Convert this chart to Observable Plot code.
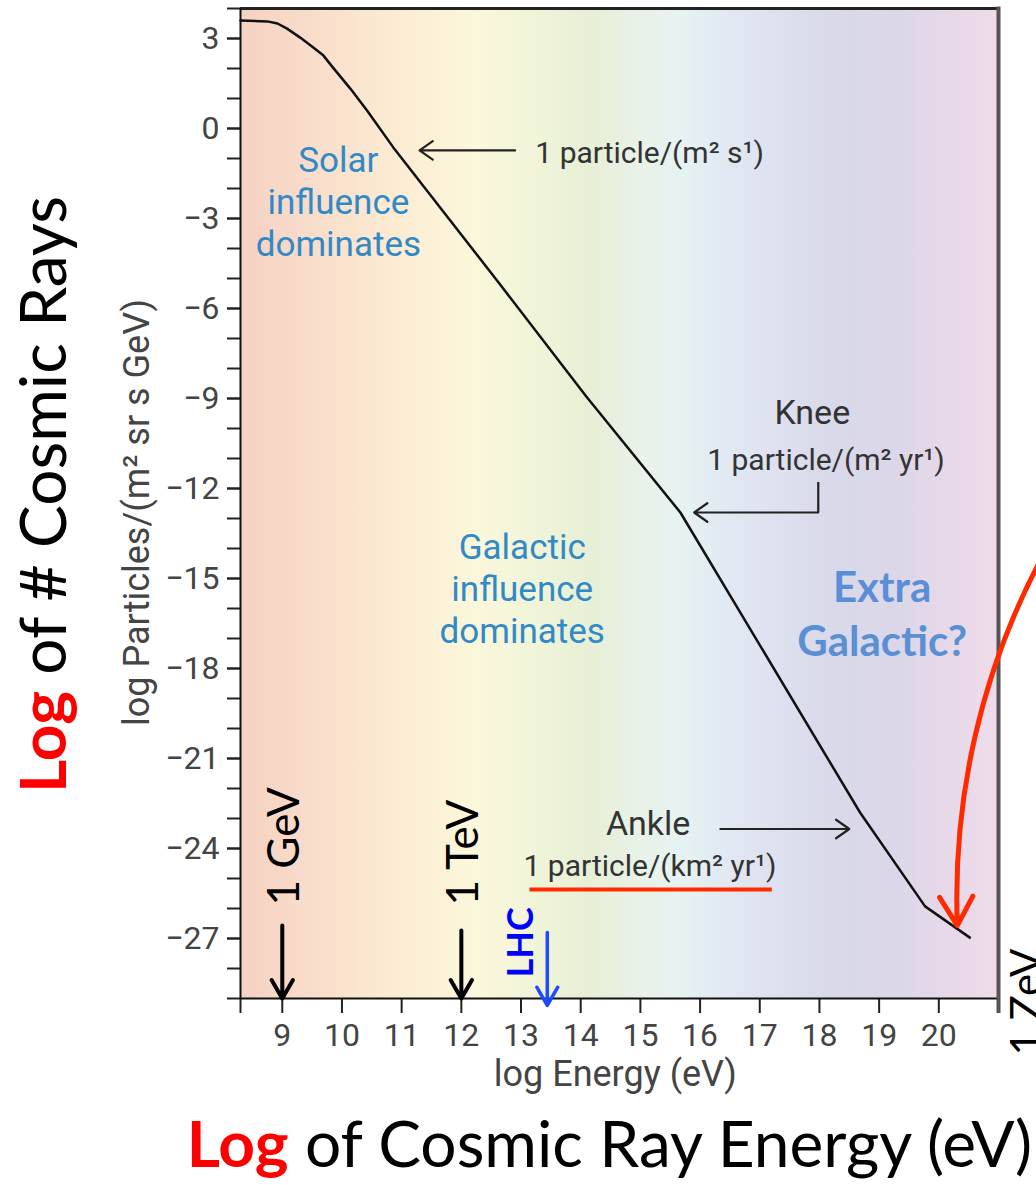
<!DOCTYPE html>
<html>
<head>
<meta charset="utf-8">
<script src="https://cdn.jsdelivr.net/npm/d3@7"></script>
<script src="https://cdn.jsdelivr.net/npm/@observablehq/plot@0.6"></script>
<style>
  body { margin: 0; background: #fff; }
  #chart svg { display: block; }
</style>
</head>
<body>
<div id="chart"></div>
<script>
// ---------------- data ----------------
const logEnergy = [8.30, 8.75, 8.92, 9.08, 9.30, 9.52, 9.69, 9.85, 10.14, 10.42, 10.86, 12.65, 14.10, 15.67, 18.68, 19.77, 20.52];
const logFlux   = [3.60, 3.57, 3.50, 3.33, 3.03, 2.70, 2.43, 2.03, 1.33, 0.60, -0.63, -5.20, -8.95, -12.80, -22.80, -25.93, -26.97];

const xTicks = [9, 10, 11, 12, 13, 14, 15, 16, 17, 18, 19, 20];
const yMajorTicks = [-27, -24, -21, -18, -15, -12, -9, -6, -3, 0, 3];
const yMinorTicks = [-29, -28, -27, -26, -25, -24, -23, -22, -21, -20, -19, -18, -17, -16, -15, -14, -13, -12, -11, -10, -9, -8, -7, -6, -5, -4, -3, -2, -1, 0, 1, 2, 3, 4];

// region labels
const regionLabels = [
  {text: "Solar\ninfluence\ndominates", x: 9.94, y: -2.4},
  {text: "Galactic\ninfluence\ndominates", x: 13.02, y: -15.3}
];
const extraLabel = [{text: "Extra\nGalactic?", x: 19.05, y: -16.1}];

// callout texts
const calloutBig = [
  {text: "Knee", x: 17.88, y: -9.5},
  {text: "Ankle", x: 15.13, y: -23.2}
];
const calloutSmall = [
  {text: "1 particle/(m² yr¹)", x: 18.11, y: -11.05},
  {text: "1 particle/(km² yr¹)", x: 15.16, y: -24.6}
];
const calloutStart = [{text: "1 particle/(m² s¹)", x: 13.24, y: -0.83}];

// callout arrows
const calloutArrows = [
  {x1: 12.9, y1: -0.73, x2: 11.3, y2: -0.73},
  {x1: 17.98, y1: -12.8, x2: 15.9, y2: -12.8},
  {x1: 16.34, y1: -23.35, x2: 18.5, y2: -23.35}
];
const kneeStem = [{x: 17.98, y1: -11.8, y2: -12.8}];

// energy markers
const energyMarkers = [
  {label: "1 GeV", x: 9, textY: -25.9, arrowTop: -26.57},
  {label: "1 TeV", x: 12, textY: -25.9, arrowTop: -26.73}
];
const lhcLabel = [{label: "LHC", x: 13.0, y: -28.3}];
const lhcArrow = [{x: 13.44, y1: -26.8, y2: -29.23}];
const zevLabel = [{label: "1 ZeV", x: 21.48, y: -30.9}];

// red annotations
const redUnderline = [{x1: 13.15, x2: 17.21, y: -25.37}];
const redArrow = [{x1: 21.7, y1: -14.4, x2: 20.31, y2: -26.57}];

// titles
const yTitle = "Log of # Cosmic Rays";
const xTitle = "Log of Cosmic Ray Energy (eV)";
const yAxisLabel = "log Particles/(m² sr s GeV)";
const xAxisLabel = "log Energy (eV)";

// background gradient (style)
const bgStops = [
  {offset: 0.00, color: "#f5d2c2"},
  {offset: 0.08, color: "#f8dbca"},
  {offset: 0.16, color: "#fbe6cf"},
  {offset: 0.25, color: "#fcf1d6"},
  {offset: 0.31, color: "#fbf7db"},
  {offset: 0.40, color: "#eff4d9"},
  {offset: 0.46, color: "#e7efd6"},
  {offset: 0.53, color: "#e8f2e8"},
  {offset: 0.58, color: "#e7f3f2"},
  {offset: 0.62, color: "#e2ecf3"},
  {offset: 0.69, color: "#dfe3f0"},
  {offset: 0.78, color: "#d8d9ea"},
  {offset: 0.87, color: "#dcd7e8"},
  {offset: 0.92, color: "#e5d8e8"},
  {offset: 1.00, color: "#efdcea"}
];

const curve = logEnergy.map((e, i) => ({e, f: logFlux[i]}));

const FONT = "Roboto, 'Noto Sans', sans-serif";
const TITLE_FONT = "Lato, 'Open Sans', sans-serif";

const plot = Plot.plot({
  width: 1036,
  height: 1185,
  marginLeft: 240,
  marginRight: 38,
  marginTop: 8,
  marginBottom: 187,
  x: {domain: [8.3, 21], label: null},
  y: {domain: [-29, 4], label: null},
  style: {fontFamily: FONT, background: "white", overflow: "visible"},
  marks: [
    Plot.frame({fill: "url(#bgGrad)", stroke: "none"}),

    // axes
    Plot.axisY(yMinorTicks, {tickSize: 13, stroke: "#222", strokeWidth: 2, tickFormat: () => "", label: null}),
    Plot.axisY(yMajorTicks, {tickSize: 13, tickPadding: 8, stroke: "#222", strokeWidth: 2, fill: "#444", fontSize: 32, label: null}),
    Plot.axisX([8.3], {tickSize: 15, stroke: "#222", strokeWidth: 2, tickFormat: () => "", label: null}),
    Plot.axisX(xTicks, {tickSize: 15, tickPadding: 10, stroke: "#222", strokeWidth: 2, fill: "#444", fontSize: 32, label: null}),

    // frame borders
    Plot.ruleY([4], {stroke: "#222", strokeWidth: 3}),
    Plot.ruleY([-29], {stroke: "#111", strokeWidth: 2}),
    Plot.ruleX([8.3], {stroke: "#111", strokeWidth: 2}),
    Plot.ruleX([21], {y1: -29.5, y2: 4.05, stroke: "#555", strokeWidth: 4}),

    // spectrum
    Plot.line(curve, {x: "e", y: "f", stroke: "#111", strokeWidth: 2.5, strokeLinejoin: "round"}),

    // region labels
    Plot.text(regionLabels, {x: "x", y: "y", text: "text", fill: "#3189c6", fontSize: 35, lineHeight: 1.2, fontFamily: FONT}),
    Plot.text(extraLabel, {x: "x", y: "y", text: "text", fill: "#5a8fd6", fontSize: 42, fontWeight: "bold", lineHeight: 1.3, fontFamily: TITLE_FONT}),

    // callouts
    Plot.text(calloutBig, {x: "x", y: "y", text: "text", fill: "#333", fontSize: 34, fontFamily: FONT}),
    Plot.text(calloutSmall, {x: "x", y: "y", text: "text", fill: "#333", fontSize: 30, fontFamily: FONT}),
    Plot.text(calloutStart, {x: "x", y: "y", text: "text", fill: "#333", fontSize: 30, textAnchor: "start", fontFamily: FONT}),
    Plot.arrow(calloutArrows, {x1: "x1", y1: "y1", x2: "x2", y2: "y2", stroke: "#222", strokeWidth: 2.2, headLength: 11, headAngle: 70}),
    Plot.ruleX(kneeStem, {x: "x", y1: "y1", y2: "y2", stroke: "#222", strokeWidth: 2.2}),

    // energy markers
    Plot.text(energyMarkers, {x: "x", y: "textY", text: "label", rotate: -90, textAnchor: "start", fill: "#000", fontSize: 44, dx: 3, fontFamily: TITLE_FONT}),
    Plot.arrow(energyMarkers, {x1: "x", x2: "x", y1: "arrowTop", y2: () => -29, stroke: "#000", strokeWidth: 4, headLength: 8}),
    Plot.text(lhcLabel, {x: "x", y: "y", text: "label", rotate: -90, textAnchor: "start", fill: "#0000ff", fontSize: 36, fontWeight: "bold", fontFamily: TITLE_FONT}),
    Plot.arrow(lhcArrow, {x1: "x", x2: "x", y1: "y1", y2: "y2", stroke: "#1f4bff", strokeWidth: 3.5, headLength: 9}),
    Plot.text(zevLabel, {x: "x", y: "y", text: "label", rotate: -90, textAnchor: "start", fill: "#000", fontSize: 42, fontFamily: TITLE_FONT}),

    // red annotations
    Plot.ruleY(redUnderline, {x1: "x1", x2: "x2", y: "y", stroke: "#ff2a00", strokeWidth: 4}),
    Plot.arrow(redArrow, {x1: "x1", y1: "y1", x2: "x2", y2: "y2", bend: -15, stroke: "#ff2a00", strokeWidth: 5, headLength: 10}),

    // axis labels
    Plot.text([yAxisLabel], {frameAnchor: "left", y: () => -12.8, text: d => d, rotate: -90, textAnchor: "middle", lineAnchor: "middle", dx: -103, fill: "#444", fontSize: 36, fontFamily: FONT}),
    Plot.text([xAxisLabel], {frameAnchor: "bottom", x: () => 14.58, text: d => d, textAnchor: "middle", lineAnchor: "middle", dy: 76, fill: "#444", fontSize: 36, fontFamily: FONT}),

    // big titles
    Plot.text([yTitle], {frameAnchor: "left", y: () => -12.2, text: d => d, rotate: -90, textAnchor: "middle", lineAnchor: "middle", dx: -195, fill: "#000", fontSize: 64, fontFamily: TITLE_FONT}),
    Plot.text([xTitle], {frameAnchor: "bottom", x: () => 14.48, text: d => d, textAnchor: "middle", lineAnchor: "middle", dy: 148, fill: "#000", fontSize: 64, fontFamily: TITLE_FONT})
  ]
});

// gradient definition for the background frame
const ns = "http://www.w3.org/2000/svg";
const defs = document.createElementNS(ns, "defs");
const grad = document.createElementNS(ns, "linearGradient");
grad.setAttribute("id", "bgGrad");
grad.setAttribute("x1", "0"); grad.setAttribute("y1", "0");
grad.setAttribute("x2", "1"); grad.setAttribute("y2", "0");
bgStops.forEach(s => {
  const st = document.createElementNS(ns, "stop");
  st.setAttribute("offset", s.offset);
  st.setAttribute("stop-color", s.color);
  grad.appendChild(st);
});
defs.appendChild(grad);
plot.insertBefore(defs, plot.firstChild);

// colour the word "Log" in the titles
function redLog(full) {
  d3.select(plot).selectAll("text").filter(function () { return this.textContent === full; }).each(function () {
    const t = d3.select(this);
    t.text(null);
    t.append("tspan").attr("fill", "#ff0000").attr("font-weight", "bold").text("Log");
    t.append("tspan").attr("fill", "#000").text(full.slice(3));
  });
}
redLog(yTitle);
redLog(xTitle);

document.getElementById("chart").appendChild(plot);
</script>
</body>
</html>
